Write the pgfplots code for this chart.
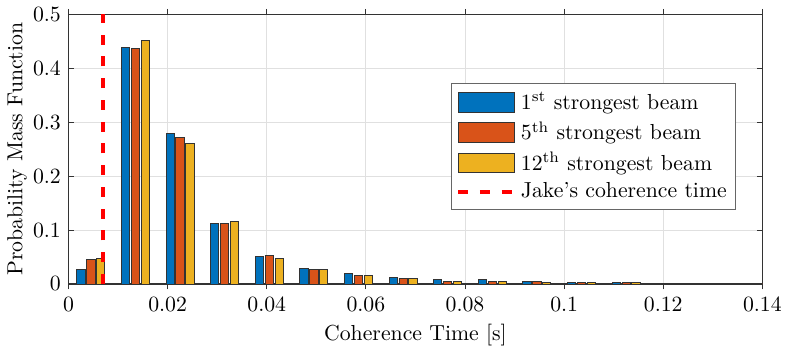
\documentclass[border=0pt]{standalone}
\usepackage{pgfplots}
\pgfplotsset{compat=1.18}
\definecolor{mblue}{rgb}{0,0.447,0.741}
\definecolor{morange}{rgb}{0.850,0.325,0.098}
\definecolor{myellow}{rgb}{0.929,0.694,0.125}

\pgfplotsset{
    beam legend/.style={legend image code/.code={
        \draw[##1, line width=0.4pt] (0pt,-4.5pt) rectangle (26pt,4.5pt);}},
    dash legend/.style={legend image code/.code={
        \draw[##1] (0pt,0pt) -- (26pt,0pt);}},
}

% bin centres of the histogram (width 0.009 s), one column per beam
\pgfplotstableread{
x       b1      b5      b12
0.0045  0.027   0.046   0.048
0.0135  0.439   0.437   0.451
0.0225  0.279   0.272   0.261
0.0315  0.113   0.113   0.116
0.0405  0.051   0.052   0.047
0.0495  0.028   0.027   0.027
0.0585  0.019   0.015   0.016
0.0675  0.012   0.011   0.010
0.0765  0.0085  0.0055  0.0055
0.0855  0.008   0.0055  0.005
0.0945  0.005   0.005   0.0035
0.1035  0.003   0.0028  0.0025
0.1125  0.002   0.002   0.002
0.1215  0.0018  0.0016  0.0016
0.1305  0.0015  0.0014  0.0014
0.1395  0.0012  0.0012  0.0012
}\pmf

\begin{document}
\begin{tikzpicture}
\begin{axis}[
    width=319pt, height=124pt, scale only axis,
    xmin=0, xmax=0.14, ymin=0, ymax=0.5,
    xtick={0,0.02,0.04,0.06,0.08,0.1,0.12,0.14},
    ytick={0,0.1,0.2,0.3,0.4,0.5},
    scaled x ticks=false, scaled y ticks=false,
    xticklabel style={/pgf/number format/fixed, /pgf/number format/precision=2},
    yticklabel style={/pgf/number format/fixed, /pgf/number format/precision=1},
    tick align=inside, major tick length=2.5pt,
    tick style={black!80, line width=0.4pt},
    grid=major, grid style={black!12, line width=0.4pt},
    axis line style={black!80, line width=0.5pt},
    ybar, bar width=0.00166,
    xlabel={Coherence Time [s]},
    ylabel={Probability Mass Function},
    ylabel style={yshift=-4pt},
    xlabel style={yshift=1pt},
    legend style={at={(0.962,0.745)}, anchor=north east, draw=black!60,
        line width=0.5pt, row sep=0pt, inner sep=2pt},
    legend cell align=left,
]
\addplot[fill=mblue, draw=black!80, line width=0.4pt, bar shift=-0.002, beam legend]
    table[x=x, y=b1] {\pmf};
\addplot[fill=morange, draw=black!80, line width=0.4pt, bar shift=0, beam legend]
    table[x=x, y=b5] {\pmf};
\addplot[fill=myellow, draw=black!80, line width=0.4pt, bar shift=0.002, beam legend]
    table[x=x, y=b12] {\pmf};
\addplot[sharp plot, red, line width=1.8pt, dash pattern=on 4.6pt off 5.4pt, dash legend]
    coordinates {(0.007,0) (0.007,0.5)};
\legend{$1^{\mathrm{st}}$ strongest beam, $5^{\mathrm{th}}$ strongest beam,
    $12^{\mathrm{th}}$ strongest beam, Jake's coherence time}
\end{axis}
\end{tikzpicture}
\end{document}
